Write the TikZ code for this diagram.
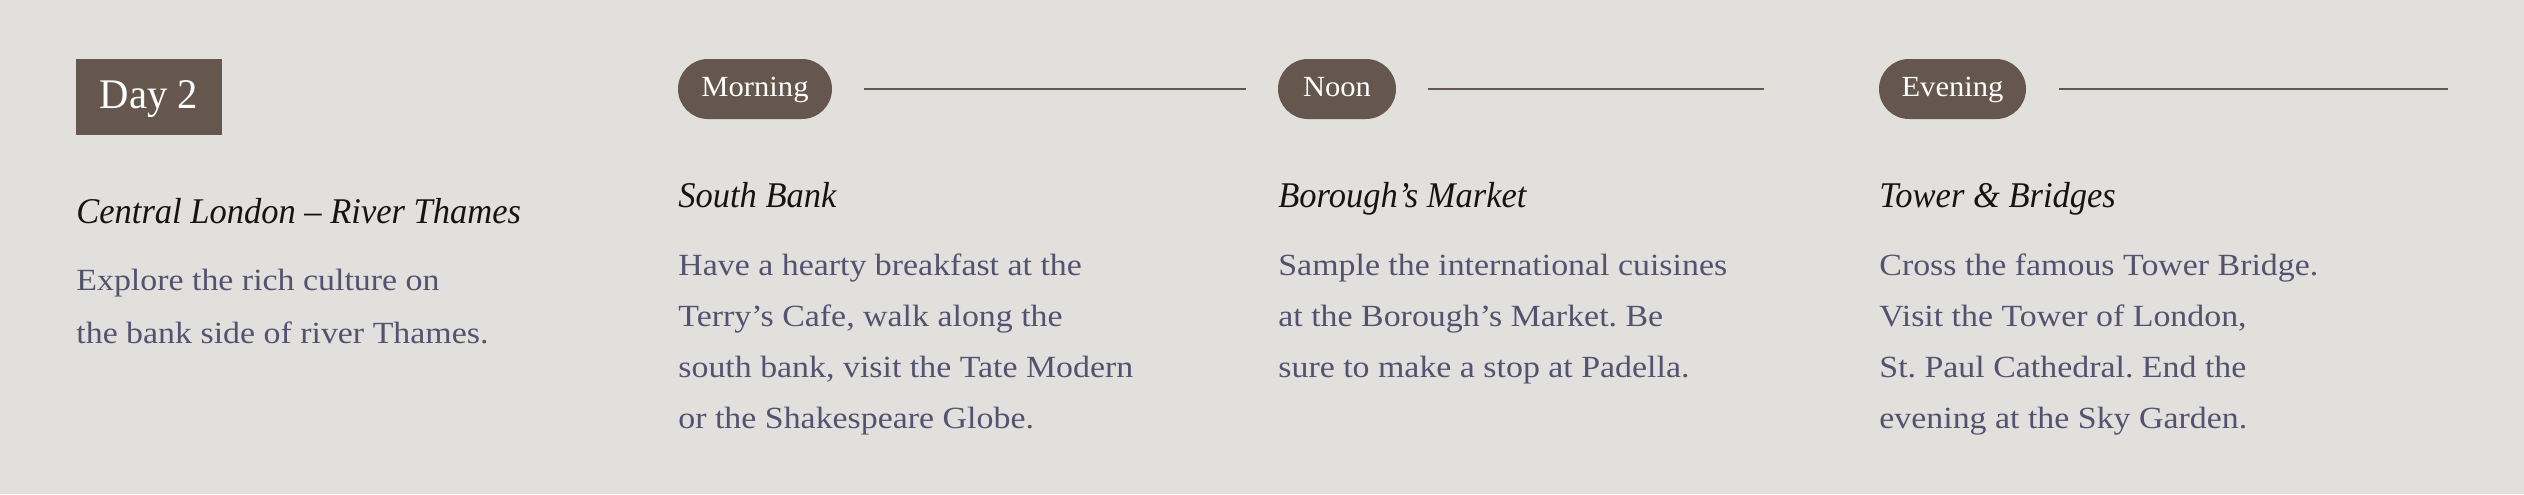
\documentclass[tikz,border=0pt]{standalone}
\usepackage{fontspec}
\setmainfont{Liberation Serif}[FakeStretch=1.10]
\newfontfamily\headfont{Liberation Serif}[FakeStretch=0.953]
\newfontfamily\dayfont{Liberation Serif}[FakeStretch=0.963]
\newfontfamily\pillfont{Liberation Serif}[FakeStretch=1.048]
\frenchspacing
\definecolor{bgc}{HTML}{E1E0DC}
\definecolor{brownc}{HTML}{65574D}
\definecolor{bodyc}{HTML}{535270}
\definecolor{headc}{HTML}{141414}
\tikzset{
  x=0.5pt,y=-0.5pt,
  daybox/.style={fill=brownc,text=white,inner sep=0pt,minimum width=73pt,minimum height=38pt,
    text height=14pt,text depth=3pt,font=\dayfont\fontsize{21.1}{25}\selectfont},
  pill/.style={fill=brownc,text=white,inner sep=0pt,minimum height=30pt,rounded corners=15pt,
    text height=9.65pt,text depth=1.7pt,font=\pillfont\fontsize{14.6}{18}\selectfont},
  heading/.style={anchor=base west,inner sep=0pt,text=headc,font=\headfont\fontsize{18.1}{22}\selectfont\itshape},
  bodytext/.style={anchor=base west,inner sep=0pt,text=bodyc,font=\fontsize{15.4}{19}\selectfont},
  rule/.style={draw=brownc,line width=1pt}
}
\begin{document}
\begin{tikzpicture}
\fill[bgc] (0,0) rectangle (2524,494);
\useasboundingbox (0,0) rectangle (2524,494);
% Day column
\node[daybox] (day) at (149,97) {Day 2};
\node[heading] (h0) at (76,223) {Central London – River Thames};
\node[bodytext] (b0a) at (76,290) {Explore the rich culture on};
\node[bodytext] (b0b) at (76,343) {the bank side of river Thames.};
% Morning
\node[pill,minimum width=77pt] (p1) at (755,89) {Morning};
\coordinate (l1s) at (864,89);
\coordinate (l1e) at (1246,89);
\draw[rule] (l1s) -- (l1e);
\node[heading] (h1) at (678,207) {South Bank};
\node[bodytext] (b1a) at (678,275) {Have a hearty breakfast at the};
\node[bodytext] (b1b) at (678,326) {Terry’s Cafe, walk along the};
\node[bodytext] (b1c) at (678,377.5) {south bank, visit the Tate Modern};
\node[bodytext] (b1d) at (678,428.5) {or the Shakespeare Globe.};
% Noon
\node[pill,minimum width=59pt] (p2) at (1337,89) {Noon};
\coordinate (l2s) at (1428,89);
\coordinate (l2e) at (1764,89);
\draw[rule] (l2s) -- (l2e);
\node[heading] (h2) at (1278,207) {Borough’s Market};
\node[bodytext] (b2a) at (1278,275) {Sample the international cuisines};
\node[bodytext] (b2b) at (1278,326) {at the Borough’s Market. Be};
\node[bodytext] (b2c) at (1278,377.5) {sure to make a stop at Padella.};
% Evening
\node[pill,minimum width=73.5pt] (p3) at (1952.5,89) {Evening};
\coordinate (l3s) at (2059,89);
\coordinate (l3e) at (2448,89);
\draw[rule] (l3s) -- (l3e);
\node[heading] (h3) at (1879,207) {Tower \& Bridges};
\node[bodytext] (b3a) at (1879,275) {Cross the famous Tower Bridge.};
\node[bodytext] (b3b) at (1879,326) {Visit the Tower of London,};
\node[bodytext] (b3c) at (1879,377.5) {St. Paul Cathedral. End the};
\node[bodytext] (b3d) at (1879,428.5) {evening at the Sky Garden.};
\end{tikzpicture}
\end{document}
